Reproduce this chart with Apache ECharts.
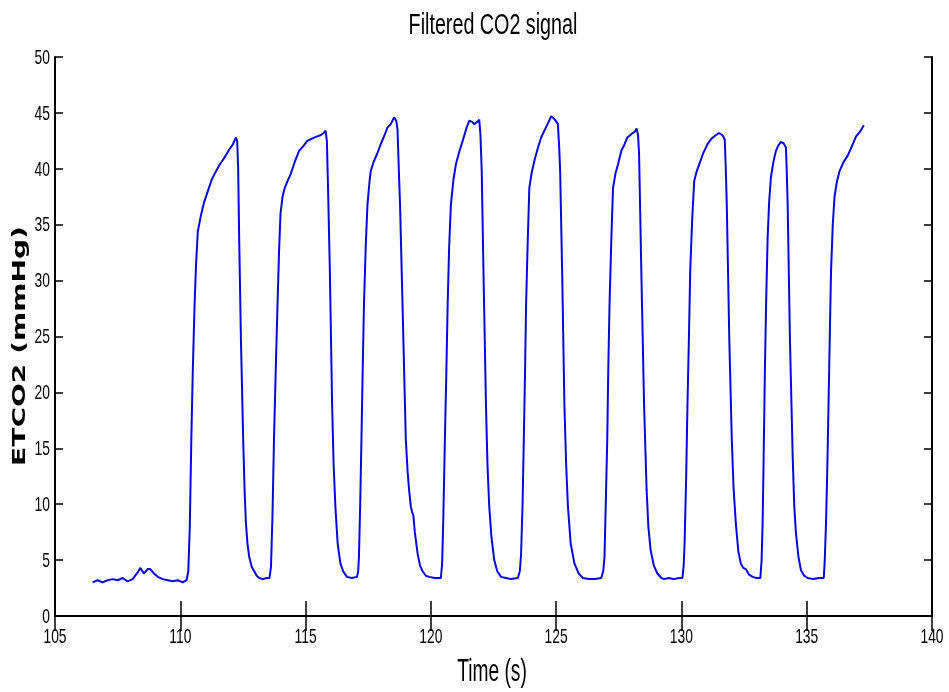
<!DOCTYPE html>
<html>
<head>
<meta charset="utf-8">
<script src="https://cdn.jsdelivr.net/npm/echarts@6/dist/echarts.min.js"></script>
<style>html,body{margin:0;padding:0;background:#fff;}#chart{width:949px;height:692px;}</style>
</head>
<body>
<div id="chart"></div>
<script>
const titleText = 'Filtered CO2 signal';
const xName = 'Time (s)';
const yName = 'ETCO2 (mmHg)';
const xTicks = [105, 110, 115, 120, 125, 130, 135, 140];
const yTicks = [0, 5, 10, 15, 20, 25, 30, 35, 40, 45, 50];

const times = [
106.5,106.7,106.9,107.1,107.3,107.5,107.7,107.9,108.1,108.3,108.4,108.55,108.7,108.8,108.95,109.1,109.3,109.5,109.7,109.9,110.1,110.25,
110.32,110.38,110.44,110.5,110.57,110.63,110.7,110.83,110.95,111.1,111.25,111.36,111.55,111.76,111.95,112.1,112.22,112.27,
112.31,112.35,112.42,112.51,112.57,112.62,112.68,112.75,112.85,112.95,113.05,113.15,113.3,113.45,113.56,
113.62,113.68,113.74,113.81,113.88,113.94,114.0,114.08,114.17,114.3,114.4,114.55,114.74,114.9,115.07,115.25,115.46,115.6,115.72,115.8,
115.85,115.9,115.97,116.06,116.12,116.19,116.28,116.39,116.5,116.65,116.85,117.05,
117.1,117.13,117.18,117.23,117.28,117.33,117.4,117.47,117.55,117.6,117.73,117.85,118.0,118.15,118.27,118.4,118.53,118.62,
118.67,118.72,118.77,118.87,119.0,119.07,119.13,119.2,119.25,119.3,119.36,119.47,119.57,119.67,119.8,119.93,120.15,120.4,
120.45,120.5,120.56,120.62,120.67,120.73,120.8,120.9,121.0,121.13,121.27,121.4,121.53,121.65,121.73,121.85,121.93,
121.98,122.03,122.1,122.2,122.26,122.33,122.42,122.53,122.65,122.8,123.0,123.2,123.47,
123.55,123.6,123.66,123.71,123.76,123.8,123.86,123.93,124.02,124.13,124.25,124.4,124.55,124.7,124.8,124.95,125.07,
125.12,125.16,125.24,125.33,125.4,125.47,125.58,125.73,125.9,126.07,126.3,126.55,126.8,
126.88,126.93,126.98,127.04,127.08,127.13,127.2,127.27,127.37,127.47,127.6,127.73,127.84,127.95,128.05,128.13,128.21,
128.27,128.31,128.4,128.51,128.61,128.68,128.77,128.9,129.04,129.2,129.31,129.5,129.7,129.9,130.04,
130.09,130.13,130.19,130.24,130.3,130.35,130.43,130.51,130.6,130.71,130.87,131.04,131.2,131.37,131.5,131.64,131.73,
131.77,131.81,131.91,132.01,132.08,132.17,132.27,132.37,132.47,132.57,132.7,132.84,133.0,133.15,
133.2,133.24,133.28,133.33,133.38,133.44,133.5,133.57,133.67,133.77,133.87,133.97,134.07,134.17,
134.2,134.24,134.33,134.44,134.5,134.57,134.67,134.77,134.9,135.04,135.25,135.5,135.68,
135.72,135.77,135.82,135.87,135.92,135.97,136.04,136.11,136.2,136.31,136.47,136.64,136.8,136.97,137.12,137.28
];

const etco2 = [
3.0,3.2,3.0,3.2,3.3,3.2,3.4,3.1,3.3,3.9,4.3,3.8,4.2,4.2,3.8,3.5,3.3,3.2,3.1,3.2,3.0,3.2,
4.0,8.0,15.8,22.0,27.8,31.5,34.4,35.9,37.0,38.0,39.0,39.5,40.3,41.0,41.7,42.2,42.8,42.5,
40.0,33.8,24.8,15.8,11.0,8.3,6.5,5.3,4.4,4.0,3.6,3.4,3.3,3.4,3.4,
4.4,9.0,15.8,22.0,27.8,32.5,36.0,37.5,38.3,39.0,39.5,40.5,41.6,42.0,42.5,42.7,42.9,43.0,43.2,43.4,
42.5,38.0,30.8,18.8,13.5,9.8,6.5,4.7,4.0,3.5,3.4,3.5,
4.0,5.3,10.0,15.8,22.0,27.8,33.0,36.8,38.8,39.8,40.7,41.3,42.2,43.0,43.7,44.0,44.6,44.3,
43.5,40.0,36.8,27.8,15.8,13.0,11.3,9.8,9.3,9.0,7.5,5.6,4.5,4.0,3.6,3.5,3.4,3.4,
4.7,9.0,15.8,22.0,27.8,33.0,36.8,39.0,40.4,41.5,42.5,43.5,44.3,44.2,44.0,44.2,44.4,
43.0,39.8,30.8,18.8,13.5,9.8,7.0,5.0,4.0,3.5,3.4,3.3,3.4,
4.0,5.5,10.0,15.8,22.0,27.8,33.0,38.3,39.6,40.7,41.7,42.8,43.5,44.2,44.7,44.4,44.0,
42.0,39.8,30.8,18.8,13.5,9.8,6.5,4.7,3.8,3.4,3.3,3.3,3.4,
4.0,5.3,10.0,15.8,22.0,27.8,33.5,38.3,39.6,40.4,41.6,42.2,42.8,43.0,43.2,43.3,43.6,
43.0,41.3,30.8,18.8,11.3,8.0,5.9,4.5,3.8,3.4,3.3,3.4,3.3,3.4,3.4,
4.5,6.8,12.5,18.8,25.0,30.8,35.5,38.9,39.7,40.4,41.4,42.2,42.7,43.0,43.2,43.0,42.6,
40.0,36.8,24.8,15.8,11.5,8.3,5.8,4.7,4.3,4.2,3.7,3.5,3.4,3.4,
5.0,8.3,14.0,21.8,28.0,33.8,37.0,39.2,40.6,41.6,42.1,42.4,42.3,41.9,
40.0,36.8,24.8,14.3,10.0,7.4,5.3,4.1,3.6,3.4,3.3,3.4,3.4,
5.0,8.3,13.0,18.8,25.0,30.8,35.0,37.5,38.8,39.8,40.6,41.2,42.0,42.9,43.3,43.9
];

const seriesData = times.map((t, i) => [t, etco2[i]]);

const sansFont = '"Liberation Sans", Arial, sans-serif';

const baseGraphics = [{
  id: 'title', type: 'text', x: 493, y: 26, scaleX: 0.68,
  style: { text: titleText, font: '29px ' + sansFont, fill: '#000', align: 'center', verticalAlign: 'middle' }
}, {
  id: 'xname', type: 'text', x: 492, y: 672, scaleX: 0.6,
  style: { text: xName, font: '32px ' + sansFont, fill: '#000', align: 'center', verticalAlign: 'middle' }
}, {
  id: 'yname', type: 'text', x: 20, y: 346, rotation: Math.PI / 2, scaleX: 1.56,
  style: { text: yName, font: 'bold 18px "DejaVu Sans", Verdana, sans-serif', fill: '#000', align: 'center', verticalAlign: 'middle' }
}];

const chart = echarts.init(document.getElementById('chart'), null, { renderer: 'canvas' });
const axisCommon = {
  type: 'value',
  axisLine: { show: true, lineStyle: { color: '#000', width: 2 } },
  axisLabel: { show: false },
  splitLine: { show: false }
};
chart.setOption({
  animation: false,
  backgroundColor: '#fff',
  graphic: baseGraphics,
  grid: { left: 55, right: 17, top: 57, bottom: 76, containLabel: false },
  xAxis: [
    Object.assign({}, axisCommon, { min: xTicks[0], max: xTicks[xTicks.length - 1], interval: 5, position: 'bottom',
      axisTick: { show: true, inside: true, length: 15, lineStyle: { color: '#000', width: 1.5 } } }),
    Object.assign({}, axisCommon, { min: xTicks[0], max: xTicks[xTicks.length - 1], interval: 5, position: 'top',
      axisTick: { show: true, inside: true, length: 15, lineStyle: { color: '#000', width: 1.5 } } })
  ],
  yAxis: [
    Object.assign({}, axisCommon, { min: yTicks[0], max: yTicks[yTicks.length - 1], interval: 5, position: 'left',
      axisTick: { show: true, inside: true, length: 8, lineStyle: { color: '#000', width: 1.5 } } }),
    Object.assign({}, axisCommon, { min: yTicks[0], max: yTicks[yTicks.length - 1], interval: 5, position: 'right',
      axisTick: { show: true, inside: true, length: 8, lineStyle: { color: '#000', width: 1.5 } } })
  ],
  series: [{
    type: 'line',
    xAxisIndex: 0, yAxisIndex: 0,
    data: seriesData,
    showSymbol: false,
    smooth: false,
    lineStyle: { color: '#0808dc', width: 2 }
  }]
});

// Tick labels: condensed text placed at the axes' own tick positions
const axisBottomY = chart.convertToPixel({ yAxisIndex: 0 }, yTicks[0]);
const axisLeftX = chart.convertToPixel({ xAxisIndex: 0 }, xTicks[0]);
const tickLabelFont = '21px ' + sansFont;
const tickGraphics = [];
xTicks.forEach(function (v, i) {
  tickGraphics.push({
    id: 'xt' + i, type: 'text',
    x: chart.convertToPixel({ xAxisIndex: 0 }, v), y: axisBottomY + 21, scaleX: 0.66,
    style: { text: String(v), font: tickLabelFont, fill: '#000', align: 'center', verticalAlign: 'middle' }
  });
});
yTicks.forEach(function (v, i) {
  tickGraphics.push({
    id: 'yt' + i, type: 'text',
    x: axisLeftX - 5, y: chart.convertToPixel({ yAxisIndex: 0 }, v) + 1, scaleX: 0.66,
    style: { text: String(v), font: tickLabelFont, fill: '#000', align: 'right', verticalAlign: 'middle' }
  });
});
chart.setOption({ graphic: baseGraphics.concat(tickGraphics) });
</script>
</body>
</html>
